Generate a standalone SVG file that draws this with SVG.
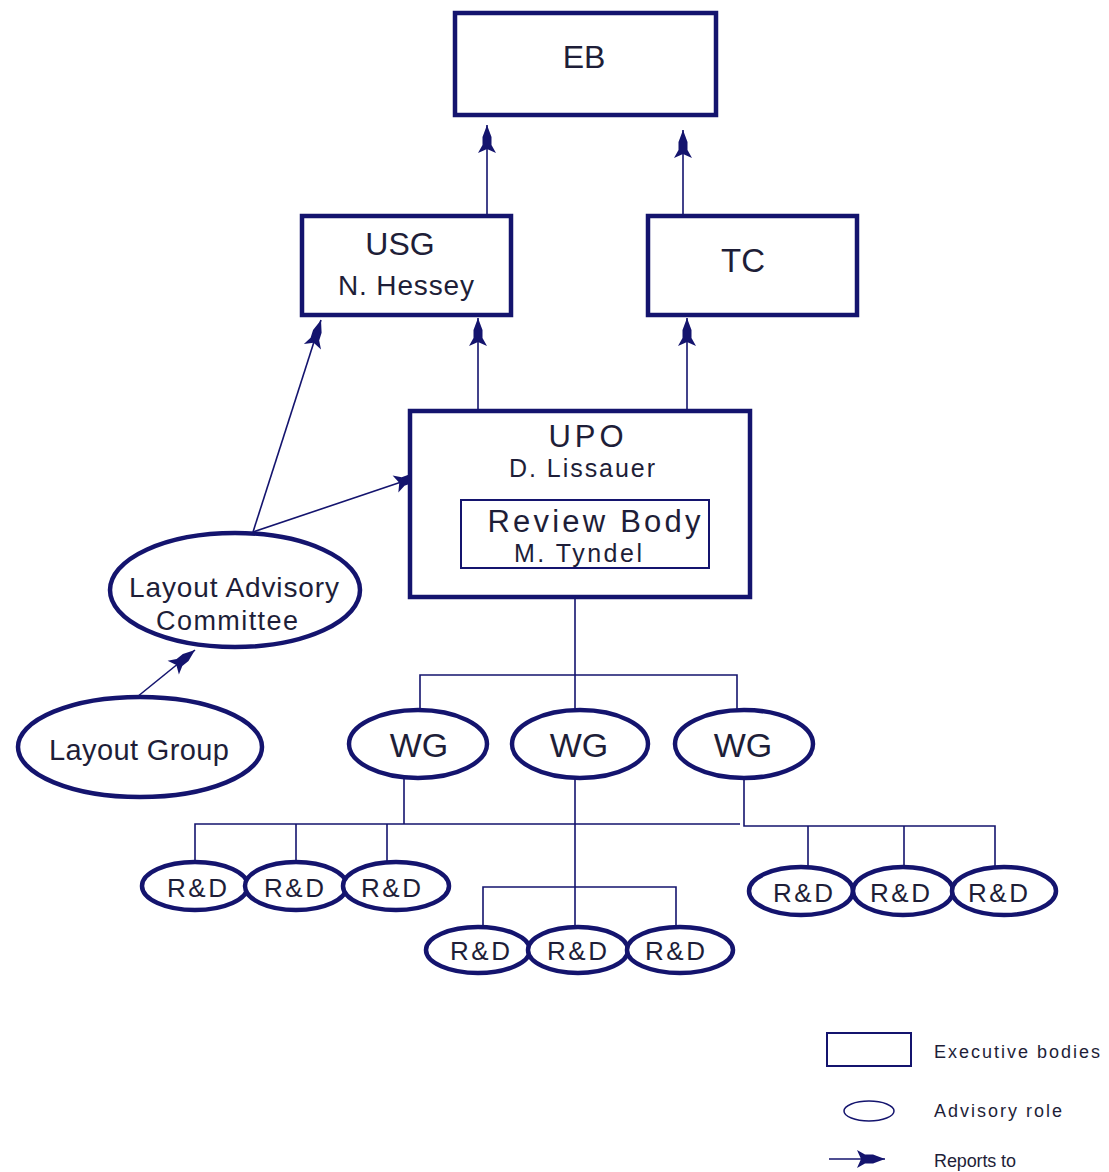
<svg xmlns="http://www.w3.org/2000/svg" width="1109" height="1172" viewBox="0 0 1109 1172">
<style>
.box{fill:#fff;stroke:#14146e;stroke-width:4.5}
.ell{fill:#fff;stroke:#14146e;stroke-width:4.5}
.inner{fill:none;stroke:#14146e;stroke-width:2}
.ln{fill:none;stroke:#14146e;stroke-width:1.6}
.t{font-family:"Liberation Sans",Arial,sans-serif;fill:#1e1e38;text-anchor:middle}
.lg{font-family:"Liberation Sans",Arial,sans-serif;fill:#1e1e38;font-size:18px}
</style>
<defs>
<marker id="ah" viewBox="-30 -10 32 20" refX="0" refY="0" markerWidth="32" markerHeight="20" markerUnits="userSpaceOnUse" orient="auto">
<path d="M0,0 L-12,-4.5 L-20,-4.5 L-28,-9 L-24,0 L-28,9 L-20,4.5 L-12,4.5 Z" fill="#14146e"/>
</marker>
</defs>
<rect width="1109" height="1172" fill="#fff"/>
<g id="connectors">
<line class="ln" x1="487" y1="215" x2="487" y2="125" marker-end="url(#ah)"/>
<line class="ln" x1="683" y1="215" x2="683" y2="130" marker-end="url(#ah)"/>
<line class="ln" x1="478" y1="410" x2="478" y2="318" marker-end="url(#ah)"/>
<line class="ln" x1="687" y1="410" x2="687" y2="318" marker-end="url(#ah)"/>
<line class="ln" x1="253" y1="532" x2="321" y2="320" marker-end="url(#ah)"/>
<line class="ln" x1="253" y1="532" x2="422" y2="475" marker-end="url(#ah)"/>
<line class="ln" x1="137" y1="697" x2="195" y2="650" marker-end="url(#ah)"/>
<polyline class="ln" points="575,597 575,675"/>
<polyline class="ln" points="420,710 420,675 737,675 737,710"/>
<line class="ln" x1="575" y1="675" x2="575" y2="710"/>
<line class="ln" x1="404" y1="777" x2="404" y2="824"/>
<polyline class="ln" points="195,862 195,824 740,824"/>
<line class="ln" x1="296" y1="824" x2="296" y2="863"/>
<line class="ln" x1="387" y1="824" x2="387" y2="862"/>
<line class="ln" x1="575" y1="778" x2="575" y2="927"/>
<polyline class="ln" points="483,927 483,887 676,887 676,927"/>
<polyline class="ln" points="744,778 744,826 995,826 995,867"/>
<line class="ln" x1="808" y1="826" x2="808" y2="867"/>
<line class="ln" x1="904" y1="826" x2="904" y2="867"/>
</g>
<g id="EB">
<rect class="box" x="455" y="13" width="261" height="102"/>
<text class="t" x="584" y="68" font-size="32">EB</text>
</g>
<g id="USG">
<rect class="box" x="302" y="216" width="209" height="99"/>
<text class="t" x="400" y="255" font-size="32">USG</text>
<text class="t" x="406" y="295" font-size="28" textLength="136">N. Hessey</text>
</g>
<g id="TC">
<rect class="box" x="648" y="216" width="209" height="99"/>
<text class="t" x="743" y="272" font-size="33">TC</text>
</g>
<g id="UPO">
<rect class="box" x="410" y="411" width="340" height="186"/>
<text class="t" x="586" y="447" font-size="31" textLength="75">UPO</text>
<text class="t" x="582" y="477" font-size="25" textLength="146">D. Lissauer</text>
</g>
<g id="ReviewBody">
<rect class="inner" x="461" y="500" width="248" height="68"/>
<text class="t" x="594" y="532" font-size="31" textLength="213">Review Body</text>
<text class="t" x="578" y="562" font-size="25" textLength="128">M. Tyndel</text>
</g>
<g id="LayoutAdvisoryCommittee">
<ellipse class="ell" cx="235" cy="590" rx="125" ry="57"/>
<text class="t" x="234" y="597" font-size="28" textLength="210">Layout Advisory</text>
<text class="t" x="227" y="630" font-size="27" textLength="142">Committee</text>
</g>
<g id="LayoutGroup">
<ellipse class="ell" cx="140" cy="747" rx="122" ry="50"/>
<text class="t" x="139" y="760" font-size="29" textLength="180">Layout Group</text>
</g>
<g id="WG1">
<ellipse class="ell" cx="418" cy="744" rx="69" ry="34"/>
<text class="t" x="419" y="757" font-size="34">WG</text>
</g>
<g id="WG2">
<ellipse class="ell" cx="580" cy="744" rx="68" ry="34"/>
<text class="t" x="579" y="757" font-size="34">WG</text>
</g>
<g id="WG3">
<ellipse class="ell" cx="744" cy="744" rx="69" ry="34"/>
<text class="t" x="743" y="757" font-size="34">WG</text>
</g>
<g id="RD1"><ellipse class="ell" cx="195" cy="886" rx="53" ry="24"/><text class="t" x="197" y="897" font-size="26" textLength="60">R&amp;D</text></g>
<g id="RD2"><ellipse class="ell" cx="296" cy="886" rx="51" ry="24"/><text class="t" x="294" y="897" font-size="26" textLength="60">R&amp;D</text></g>
<g id="RD3"><ellipse class="ell" cx="396" cy="886" rx="53" ry="24"/><text class="t" x="391" y="897" font-size="26" textLength="60">R&amp;D</text></g>
<g id="RD4"><ellipse class="ell" cx="478" cy="950" rx="52" ry="23"/><text class="t" x="480" y="960" font-size="26" textLength="60">R&amp;D</text></g>
<g id="RD5"><ellipse class="ell" cx="578" cy="950" rx="50" ry="23"/><text class="t" x="577" y="960" font-size="26" textLength="60">R&amp;D</text></g>
<g id="RD6"><ellipse class="ell" cx="680" cy="950" rx="53" ry="23"/><text class="t" x="675" y="960" font-size="26" textLength="60">R&amp;D</text></g>
<g id="RD7"><ellipse class="ell" cx="801" cy="891" rx="52" ry="24"/><text class="t" x="803" y="902" font-size="26" textLength="60">R&amp;D</text></g>
<g id="RD8"><ellipse class="ell" cx="903" cy="891" rx="50" ry="24"/><text class="t" x="900" y="902" font-size="26" textLength="60">R&amp;D</text></g>
<g id="RD9"><ellipse class="ell" cx="1004" cy="891" rx="52" ry="24"/><text class="t" x="998" y="902" font-size="26" textLength="60">R&amp;D</text></g>
<g id="legend">
<rect x="827" y="1033" width="84" height="33" fill="#fff" stroke="#14146e" stroke-width="2"/>
<text class="lg" x="934" y="1058" textLength="166">Executive bodies</text>
<ellipse cx="869" cy="1111" rx="25" ry="10" fill="#fff" stroke="#14146e" stroke-width="1.5"/>
<text class="lg" x="934" y="1117" textLength="128">Advisory role</text>
<line class="ln" x1="829" y1="1159" x2="885" y2="1159" stroke-width="2" marker-end="url(#ah)"/>
<text class="lg" x="934" y="1167" textLength="82">Reports to</text>
</g>
</svg>
